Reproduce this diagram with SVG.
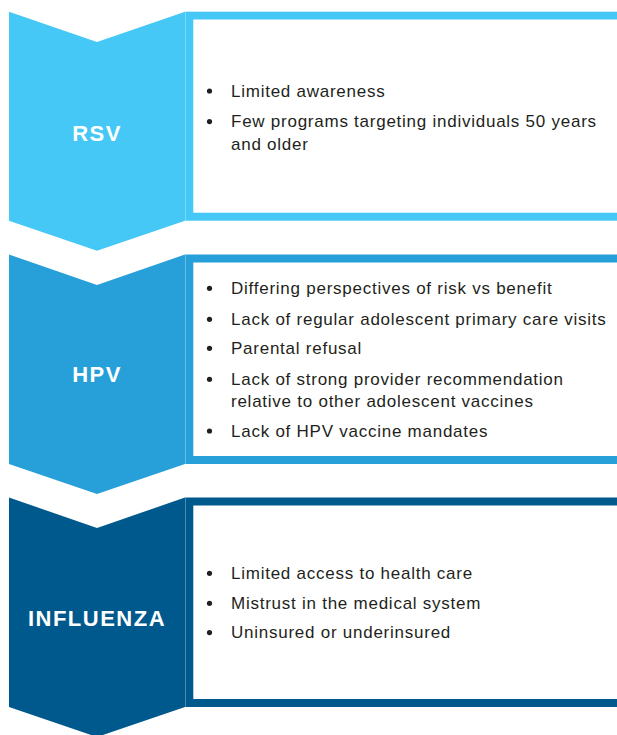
<svg xmlns="http://www.w3.org/2000/svg" width="617" height="735" viewBox="0 0 617 735">
<style>
.body{font-family:"Liberation Sans","DejaVu Sans",sans-serif;font-size:17px;letter-spacing:0.75px;fill:#231f20}
.head{font-family:"Liberation Sans","DejaVu Sans",sans-serif;font-size:22px;font-weight:bold;fill:#fff;text-anchor:middle;letter-spacing:1.5px}
.inner{fill:#fff}
.div{stroke:#fff;stroke-opacity:0.3;stroke-width:1}
.dot{fill:#231f20}
</style>
<rect width="617" height="735" fill="#fff"/>
<g id="rsv">
<path d="M9,11.7 L97,42 L185,11.7 L185,220.7 L97,250.7 L9,220.7 Z" fill="#45c8f5"/>
<rect x="185" y="11.7" width="440" height="209" fill="#45c8f5"/>
<rect class="inner" x="193.3" y="19.5" width="430" height="193.2"/>
<line class="div" x1="185.5" y1="11.7" x2="185.5" y2="220.7"/>
<text class="head" x="97" y="140.7" letter-spacing="1px">RSV</text>
<circle class="dot" cx="209.5" cy="91" r="2.6"/>
<text class="body" x="231" y="96.7">Limited awareness</text>
<circle class="dot" cx="209.5" cy="121.6" r="2.6"/>
<text class="body" x="231" y="127.3">Few programs targeting individuals 50 years</text>
<text class="body" x="231" y="150">and older</text>
</g>
<g id="hpv">
<path d="M9,254.5 L97,285 L185,254.5 L185,464 L97,494 L9,464 Z" fill="#279fd9"/>
<rect x="185" y="254.5" width="440" height="209.5" fill="#279fd9"/>
<rect class="inner" x="193.3" y="262.5" width="430" height="193.5"/>
<line class="div" x1="185.5" y1="254.5" x2="185.5" y2="464"/>
<text class="head" x="97" y="381.7">HPV</text>
<circle class="dot" cx="209.5" cy="288.3" r="2.6"/>
<text class="body" x="231" y="294">Differing perspectives of risk vs benefit</text>
<circle class="dot" cx="209.5" cy="319.3" r="2.6"/>
<text class="body" x="231" y="325">Lack of regular adolescent primary care visits</text>
<circle class="dot" cx="209.5" cy="348.3" r="2.6"/>
<text class="body" x="231" y="354">Parental refusal</text>
<circle class="dot" cx="209.5" cy="379.3" r="2.6"/>
<text class="body" x="231" y="385">Lack of strong provider recommendation</text>
<text class="body" x="231" y="407.3">relative to other adolescent vaccines</text>
<circle class="dot" cx="209.5" cy="431" r="2.6"/>
<text class="body" x="231" y="436.7">Lack of HPV vaccine mandates</text>
</g>
<g id="influenza">
<path d="M9,497.5 L97,528 L185,497.5 L185,707 L97,737 L9,707 Z" fill="#00598c"/>
<rect x="185" y="497.5" width="440" height="209.5" fill="#00598c"/>
<rect class="inner" x="193.3" y="505.5" width="430" height="193.5"/>
<line class="div" x1="185.5" y1="497.5" x2="185.5" y2="707"/>
<text class="head" x="97" y="625.7">INFLUENZA</text>
<circle class="dot" cx="209.5" cy="573.3" r="2.6"/>
<text class="body" x="231" y="579">Limited access to health care</text>
<circle class="dot" cx="209.5" cy="603.3" r="2.6"/>
<text class="body" x="231" y="609">Mistrust in the medical system</text>
<circle class="dot" cx="209.5" cy="632.6" r="2.6"/>
<text class="body" x="231" y="638.3">Uninsured or underinsured</text>
</g>
<g id="connectors"></g>
</svg>
